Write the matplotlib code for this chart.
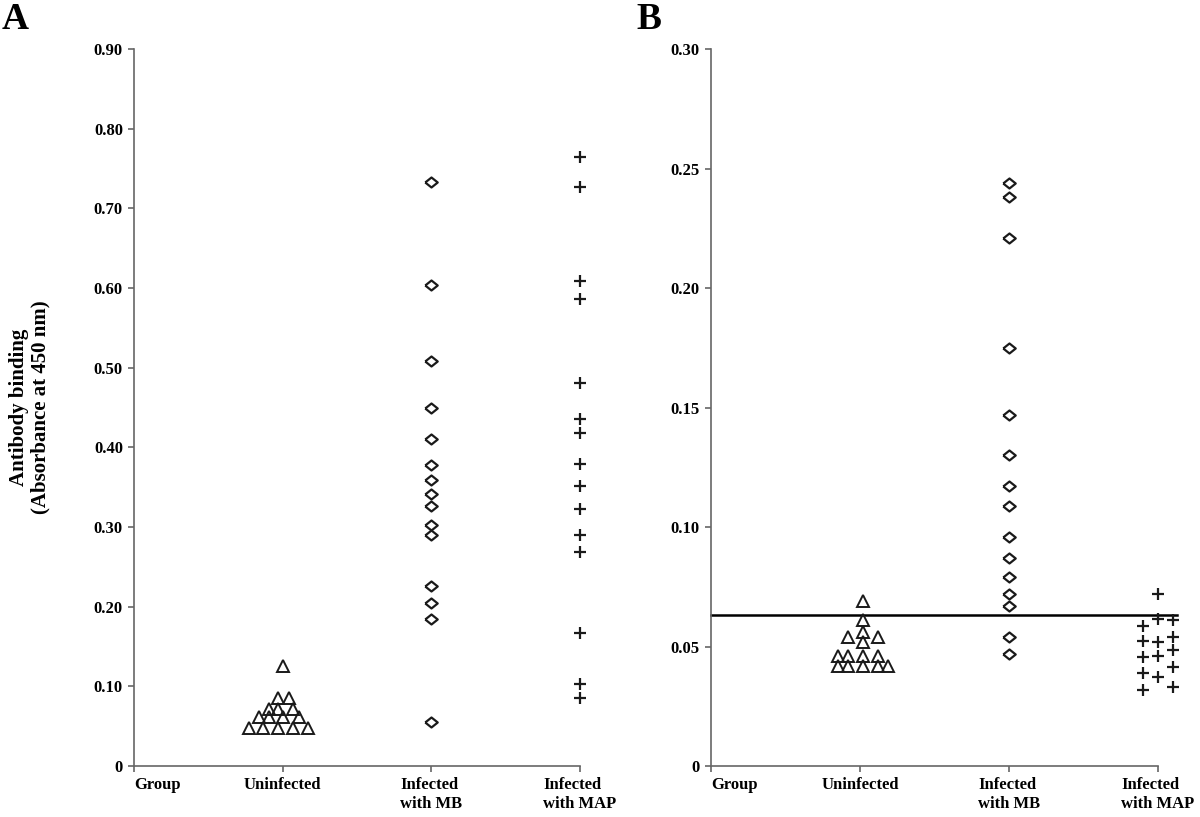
import matplotlib
matplotlib.use("Agg")
import matplotlib.pyplot as plt
import numpy as np

plt.rcParams["font.family"] = ["Liberation Serif", "DejaVu Serif"]
plt.rcParams["font.weight"] = "bold"

# ── data ───────────────────────────────────────────────────────────────────────
groups = ["Group", "Uninfected", "Infected\nwith MB", "Infected\nwith MAP"]

# panel A
a_unin_x = [1.00, 0.97, 1.04, 0.91, 0.97, 1.07, 0.84, 0.91, 1.00, 1.11,
            0.77, 0.87, 0.97, 1.07, 1.17]
a_unin_y = [0.126, 0.086, 0.086, 0.072, 0.072, 0.072, 0.061, 0.061, 0.061, 0.061,
            0.048, 0.048, 0.048, 0.048, 0.048]
a_mb_y   = [0.733, 0.604, 0.508, 0.450, 0.411, 0.378, 0.359, 0.342, 0.327, 0.303,
            0.290, 0.226, 0.205, 0.184, 0.055]
a_map_y  = [0.765, 0.727, 0.609, 0.586, 0.481, 0.435, 0.418, 0.379, 0.351, 0.322,
            0.290, 0.269, 0.167, 0.103, 0.085]

# panel B
b_unin_x = [1.02, 1.02, 1.02, 0.92, 1.12, 1.02, 0.85, 0.92, 1.02, 1.12,
            0.85, 0.92, 1.02, 1.12, 1.19]
b_unin_y = [0.069, 0.061, 0.056, 0.054, 0.054, 0.052, 0.046, 0.046, 0.046, 0.046,
            0.042, 0.042, 0.042, 0.042, 0.042]
b_mb_y   = [0.244, 0.238, 0.221, 0.175, 0.147, 0.130, 0.117, 0.109, 0.096, 0.087,
            0.079, 0.072, 0.067, 0.054, 0.047]
b_map_x  = [3.00, 3.00, 3.10, 2.90, 3.10, 2.90, 3.00, 3.10, 2.90, 3.00,
            3.10, 3.00, 2.90, 3.10, 2.90]
b_map_y  = [0.072, 0.0616, 0.061, 0.0585, 0.054, 0.0525, 0.052, 0.0487, 0.0455, 0.046,
            0.0415, 0.0373, 0.039, 0.033, 0.032]
b_cutoff = 0.063

a_yticks = [0, 0.10, 0.20, 0.30, 0.40, 0.50, 0.60, 0.70, 0.80, 0.90]
b_yticks = [0, 0.05, 0.10, 0.15, 0.20, 0.25, 0.30]

# flattened diamond marker
DIAMOND = [(-1, 0), (0, 0.8), (1, 0), (0, -0.8), (-1, 0)]
AX_GREY = "#666666"
MK = "#1a1a1a"


def style_axes(ax, yticks, ymax):
    ax.set_xlim(0, 3)
    ax.set_ylim(0, ymax)
    for s in ("top", "right"):
        ax.spines[s].set_visible(False)
    for s in ("left", "bottom"):
        ax.spines[s].set_color(AX_GREY)
        ax.spines[s].set_linewidth(1.2)
    ax.set_yticks(yticks)
    ax.set_yticklabels(["0"] + [f"{t:.2f}" for t in yticks[1:]])
    ax.set_xticks([0, 1, 2, 3])
    ax.set_xticklabels(groups)
    ax.tick_params(axis="both", direction="out", length=4, width=1.2,
                   color=AX_GREY, labelsize=12, pad=4)
    labels = ax.get_xticklabels()
    for lab in labels:
        lab.set_multialignment("left")
        lab.set_fontweight("bold")
    labels[0].set_horizontalalignment("left")
    for lab in ax.get_yticklabels():
        lab.set_fontweight("bold")


def scatter(ax, xs, ys, marker, ms, mew):
    ax.plot(xs, ys, linestyle="none", marker=marker, ms=ms, mew=mew,
            mfc="none", mec=MK, color=MK, clip_on=False, zorder=3)


fig = plt.figure(figsize=(12, 8.17), dpi=100)
ax_a = fig.add_axes([0.1117, 0.0624, 0.3717, 0.8776])
ax_b = fig.add_axes([0.5925, 0.0624, 0.3725, 0.8776])

# ── panel A ────────────────────────────────────────────────────────────────────
style_axes(ax_a, a_yticks, 0.90)
scatter(ax_a, a_unin_x, a_unin_y, "^", 8.5, 1.4)
scatter(ax_a, np.full(len(a_mb_y), 2.0), a_mb_y, DIAMOND, 9, 1.6)
scatter(ax_a, np.full(len(a_map_y), 3.0), a_map_y, "+", 8.5, 1.6)
ax_a.set_ylabel("Antibody binding\n(Absorbance at 450 nm)", fontsize=15,
                fontweight="bold", labelpad=31, linespacing=1.1)

# ── panel B ────────────────────────────────────────────────────────────────────
style_axes(ax_b, b_yticks, 0.30)
ax_b.plot([0, 3.13], [b_cutoff, b_cutoff], color="black", lw=1.8,
          clip_on=False, zorder=2)
scatter(ax_b, b_unin_x, b_unin_y, "^", 8.5, 1.4)
scatter(ax_b, np.full(len(b_mb_y), 2.0), b_mb_y, DIAMOND, 9, 1.6)
scatter(ax_b, b_map_x, b_map_y, "+", 8.5, 1.6)

fig.text(0.001, 0.997, "A", fontsize=27, fontweight="bold", va="top", ha="left")
fig.text(0.530, 0.997, "B", fontsize=27, fontweight="bold", va="top", ha="left")

fig.savefig("out.png", dpi=100)
